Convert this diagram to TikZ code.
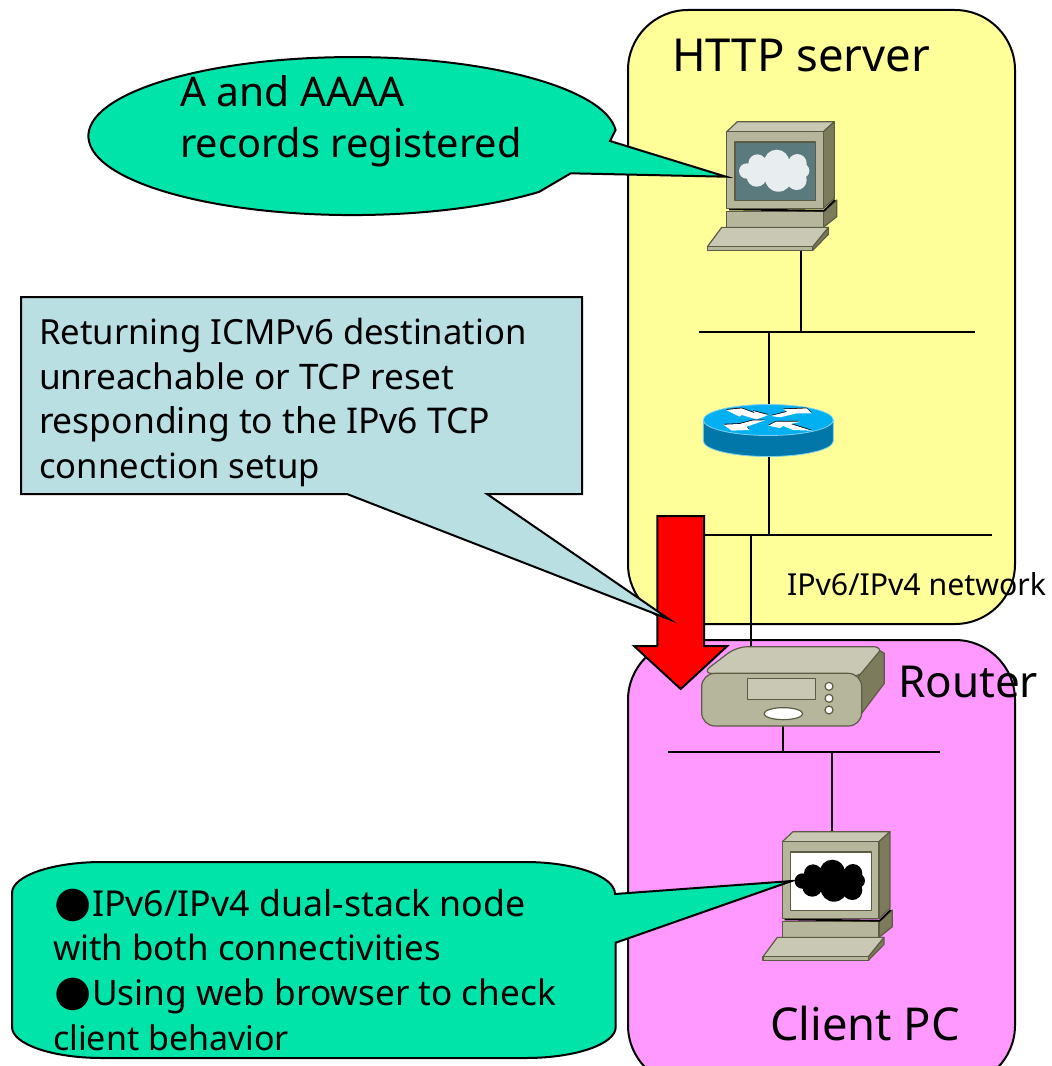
\documentclass[tikz,border=0pt]{standalone}
\usepackage{fontspec}
\setmainfont{Noto Sans}
\newfontfamily\bulletfont{DejaVu Sans}
\newcommand{\bigbul}{\hspace*{0.8pt}{\fontsize{32}{32}\bulletfont ●}\hspace*{0.6pt}}
\newcommand{\fs}[1]{\fontsize{#1}{#1}\selectfont}
\definecolor{yel}{HTML}{FFFF99}
\definecolor{pnk}{HTML}{FF99FF}
\definecolor{grn}{HTML}{00E3A9}
\definecolor{blu}{HTML}{B9DFE3}
\definecolor{tan1}{HTML}{B6B69C}
\definecolor{tan2}{HTML}{C8C8B4}
\definecolor{tan3}{HTML}{7C7C5C}
\definecolor{edge}{HTML}{5C5C44}
\definecolor{scr}{HTML}{5A7A7E}
\definecolor{cld}{HTML}{E8EEF0}
\definecolor{ctop}{HTML}{00B0F0}
\definecolor{cside}{HTML}{0077A8}
\definecolor{cedge}{HTML}{80D0F0}
\tikzset{
  region/.style={draw=black,line width=1.5pt,rounded corners=45pt,inner sep=0pt,outer sep=0pt,anchor=north west},
  callout/.style={draw=black,line width=1.5pt,line join=miter},
  net/.style={draw=black,line width=1.5pt},
  lab/.style={anchor=base west,inner sep=0pt,outer sep=0pt,text=black},
  big/.style={lab,font=\fs{34.1}},
  mid/.style={lab,font=\fs{29.8}},
  rtr/.style={lab,font=\fs{33}},
  txt/.style={lab,font=\fs{26}},
  sml/.style={lab,font=\fs{22.7}},
  part/.style={draw=edge,line width=.9pt,line join=round},
  pics/pc/.style={code={
    \begin{scope}[x=.25pt,y=.25pt]
      \path[part,fill=tan3] (290,-240) -- (330,-205) -- (330,-255) -- (290,-287) -- cycle;
      \path[part,fill=tan1] (0,-240) rectangle (290,-287);
      \draw[black,line width=1.4pt] (7,-233) -- (292,-237) -- (325,-205);
      \path[part,fill=tan2] (0,0) -- (32,30) -- (323,30) -- (290,0) -- cycle;
      \path[part,fill=tan3] (290,0) -- (323,30) -- (323,-200) -- (290,-230) -- cycle;
      \path[part,fill=tan1] (0,0) rectangle (290,-230);
      \path[part,fill=#1] (25,-31) rectangle (267,-207);
      \path[part,fill=tan3] (258,-345) -- (305,-287) -- (305,-308) -- (258,-356) -- cycle;
      \path[part,fill=tan2] (-15,-287) -- (305,-287) -- (258,-345) -- (-58,-345) -- cycle;
      \path[part,fill=tan1] (-58,-345) rectangle (258,-356);
    \end{scope}
  }},
  pics/cloud/.style={code={
    \begin{scope}[x=.25pt,y=.25pt]
      \fill[#1] (60,-118) circle (23) (92,-95) circle (27) (150,-92) circle (38)
        (212,-95) circle (28) (226,-117) circle (22) (210,-145) circle (30)
        (155,-140) circle (40) (90,-135) circle (30) (150,-118) circle (45)
        (105,-115) circle (30) (195,-115) circle (30);
    \end{scope}
  }}
}
\begin{document}
\begin{tikzpicture}[x=.75pt,y=.75pt]
\useasboundingbox (0,0) rectangle (1051,-1066);
\fill[white] (0,0) rectangle (1051,-1066);
\begin{scope}
\clip (0,0) rectangle (1051,-1066);
\node[region,fill=yel,minimum width=290.25pt,minimum height=460.5pt] (yellow) at (628,-10) {};
\node[region,fill=pnk,minimum width=290.25pt,minimum height=334pt] (pink) at (628,-640) {};
\end{scope}
% network coordinates
\coordinate (sv) at (800.5,-250);
\coordinate (b1) at (800.5,-332);
\coordinate (b1l) at (699,-332);
\coordinate (b1r) at (975,-332);
\coordinate (ra) at (768.5,-332);
\coordinate (rb) at (768.5,-535);
\coordinate (b2l) at (704,-535);
\coordinate (b2r) at (992,-535);
\coordinate (c1) at (751,-535);
\coordinate (c2) at (751,-650);
\coordinate (d1) at (783,-725);
\coordinate (d2) at (783,-752);
\coordinate (b3l) at (668,-752);
\coordinate (b3r) at (940,-752);
\coordinate (e1) at (832,-752);
\coordinate (e2) at (832,-834);
\draw[net] (sv) -- (b1) (b1l) -- (b1r) (ra) -- (rb) (b2l) -- (b2r) (c1) -- (c2) (d1) -- (d2) (b3l) -- (b3r) (e1) -- (e2);
% server pc
\pic at (726.7,-131.7) {pc=scr};
\pic at (726.7,-131.7) {cloud=cld};
% client pc
\pic at (782.3,-841.7) {pc=white};
\pic at (782.3,-841.7) {cloud=black};
% cisco router
\path[draw=cedge,line width=.6pt,fill=cside] (703.3,-420) -- (703.3,-441) arc[start angle=180,end angle=360,x radius=65,y radius=15.5] -- (833.3,-420) -- cycle;
\path[draw=cedge,line width=.6pt,fill=ctop] (768.3,-420) ellipse[x radius=65,y radius=15.5];
\begin{scope}[x=.25pt,y=.25pt,shift={(700*3,-400*3)}]
  \foreach \shade/\dy in {black/0.8,white/0}{
  \begin{scope}[yshift=\dy*.75pt]
  \fill[\shade] (78,-30) -- (125,-25) -- (165,-40) -- (160,-33) -- (205,-45) -- (170,-58) -- (125,-45) -- (118,-50) -- cycle
    (212,-48) -- (262,-35) -- (250,-28) -- (320,-25) -- (335,-40) -- (290,-40) -- (240,-52) -- cycle
    (70,-74) -- (118,-72) -- (160,-61) -- (195,-61) -- (140,-80) -- (148,-90) -- (95,-92) -- cycle
    (205,-77) -- (228,-65) -- (302,-65) -- (272,-72) -- (335,-92) -- (280,-90) -- (250,-78) -- (240,-84) -- cycle;
  \end{scope}}
\end{scope}
% red arrow
\path[draw=black,line width=1.5pt,fill=red] (657.3,-516) -- (704,-516) -- (704,-646) -- (727.3,-646) -- (680.7,-689) -- (634,-646) -- (657.3,-646) -- cycle;
% blue callout
\path[callout,fill=blu] (21,-297) -- (582,-297) -- (582,-494) -- (487,-494) -- (669.3,-619.3) -- (347,-494) -- (21,-494) -- cycle;
% router box
\begin{scope}[x=.25pt,y=.25pt,shift={(620*3,-390*3)}]
  \path[part,fill=tan2,rounded corners=8pt] (245,-850) -- (350,-770) -- (793,-770) -- (725,-860) -- cycle;
  \path[part,fill=tan3] (715,-860) -- (780,-782) -- (793,-790) -- (793,-880) -- (725,-970) -- cycle;
  \path[part,fill=tan1,rounded corners=10pt] (245,-850) rectangle (725,-1008);
  \path[part,fill=tan2] (382,-865) rectangle (586,-928);
  \path[part,fill=white] (627,-889) circle (12) (627,-925) circle (12) (627,-960) circle (12);
  \path[part,fill=white] (490,-971) ellipse[x radius=58,y radius=18];
\end{scope}
% green callouts
\path[callout,fill=grn] (726,-176.7) -- (610,-141) -- (615.6,-130) arc[start angle=4.4,end angle=315,x radius=264,y radius=79] -- (570.7,-173.3) -- cycle;
\path[callout,fill=grn] (615,-894) -- (791.7,-881) -- (615.7,-942.7) -- (615.7,-1027)
  arc[start angle=0,end angle=-90,x radius=90,y radius=31] -- (102,-1058)
  arc[start angle=270,end angle=180,x radius=90,y radius=31] -- (12,-893)
  arc[start angle=180,end angle=90,x radius=90,y radius=31] -- (525,-862)
  arc[start angle=90,end angle=0,x radius=90,y radius=32] -- cycle;
% labels
\node[big] (t1) at (672,-72) {HTTP server};
\node[mid] (t2) at (180,-107) {\fs{30.6}A and AAAA};
\node[mid] (t3) at (180,-158) {records registered};
\node[txt] (t4) at (39,-344) {Returning ICMPv6 destination};
\node[txt] (t5) at (39,-389) {\fs{26.4}unreachable or TCP reset};
\node[txt] (t6) at (39,-433) {\fs{26.6}responding to the IPv6 TCP};
\node[txt] (t7) at (39,-478) {connection setup};
\node[sml] (t8) at (787,-595) {IPv6/IPv4 network};
\node[rtr] (t9) at (898,-697) {Router};
\node[big] (t10) at (770,-1040) {\fs{34}Client PC};
\node[txt] (t11) at (53,-916) {\bigbul\fs{26.8}IPv6/IPv4 dual-stack node};
\node[txt] (t12) at (53,-960) {\fs{26.1}with both connectivities};
\node[txt] (t13) at (53,-1005) {\bigbul\fs{26.4}Using web browser to check};
\node[txt] (t14) at (53,-1050) {\fs{25.5}client behavior};
\end{tikzpicture}
\end{document}
